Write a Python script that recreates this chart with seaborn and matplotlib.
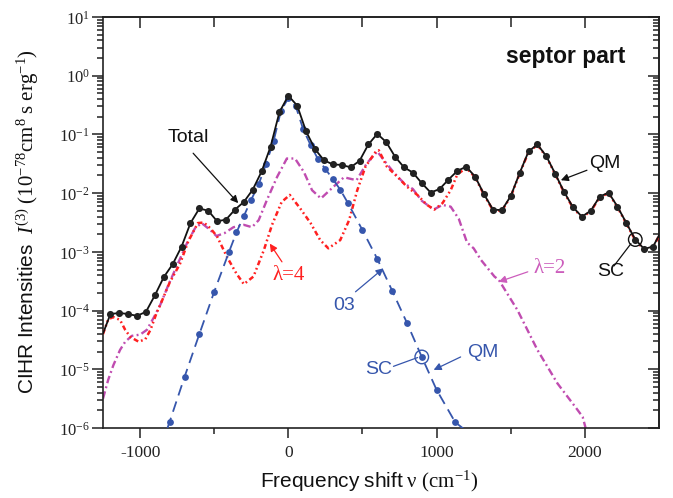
import numpy as np
import pandas as pd
import matplotlib
matplotlib.use("Agg")
import matplotlib.pyplot as plt
import seaborn as sns
from matplotlib.ticker import FixedLocator, LogLocator, NullFormatter, FuncFormatter

# ---------------------------------------------------------------------------
# Spectra (log10 of intensity, units 1e-78 cm^8 s erg^-1) vs frequency shift
# ---------------------------------------------------------------------------
# Total: semiclassical points every 60 cm^-1, quantum line through them
total_nu = list(range(-1200, 2461, 60))
total_log10 = [
    -4.06, -4.04, -4.06, -4.09, -4.02, -3.74, -3.43, -3.21, -2.91, -2.51,
    -2.26, -2.30, -2.48, -2.45, -2.28, -2.15, -1.94, -1.63, -1.21, -0.62,
    -0.34, -0.51, -0.95, -1.25, -1.44, -1.51, -1.52, -1.56, -1.45, -1.17,
    -0.99, -1.13, -1.38, -1.56, -1.65, -1.83, -1.99, -1.93, -1.77, -1.62,
    -1.55, -1.72, -2.02, -2.28, -2.29, -2.05, -1.66, -1.29, -1.17, -1.37,
    -1.67, -1.98, -2.24, -2.40, -2.30, -2.06, -1.99, -2.23, -2.51, -2.79,
    -2.95, -2.91,
]
total_edge_nu = [-1250, 2500]
total_edge_log10 = [-4.39, -2.72]

# Isotropic 03 component
o3_nu = [-800, -700, -600, -500, -400, -350, -300, -250, -200, -150, -100,
         -50, 0, 50, 100, 150, 200, 250, 300, 350, 400, 500, 600, 700, 800,
         900, 1000, 1125]
o3_log10 = [-5.89, -5.13, -4.40, -3.68, -3.00, -2.67, -2.39, -2.11, -1.85,
            -1.50, -1.12, -0.60, -0.38, -0.52, -0.91, -1.18, -1.42, -1.59,
            -1.76, -1.94, -2.16, -2.63, -3.12, -3.66, -4.21, -4.79, -5.35,
            -5.90]
o3_edge_nu = [-815, 1185]
o3_edge_log10 = [-6.0, -6.02]

# lambda = 4 component
l4_nu = [-1250, -1215, -1180, -1135, -1100, -1065, -1010, -965, -930, -890,
         -855, -800, -730, -675, -610, -570, -525, -480, -415, -350, -300,
         -235, -165, -110, -45, 10, 80, 150, 215, 270, 350, 410, 465, 520,
         590, 610, 665, 735, 800, 870, 935, 985, 1040, 1095, 1140, 1200,
         1260, 1320, 1380, 1440, 1500, 1560, 1620, 1680, 1740, 1800, 1860,
         1920, 1980, 2040, 2100, 2160, 2220, 2280, 2340, 2400, 2460, 2500]
l4_log10 = [-4.40, -4.15, -4.11, -4.16, -4.33, -4.45, -4.53, -4.49, -4.33,
            -4.05, -3.85, -3.52, -3.20, -2.82, -2.51, -2.50, -2.60, -2.74,
            -3.08, -3.37, -3.55, -3.42, -2.97, -2.54, -2.15, -2.03, -2.26,
            -2.51, -2.80, -2.94, -2.80, -2.46, -1.95, -1.55, -1.29, -1.27,
            -1.55, -1.72, -1.89, -2.03, -2.20, -2.28, -2.17, -1.95, -1.68,
            -1.57, -1.73, -2.03, -2.29, -2.30, -2.06, -1.67, -1.30, -1.18,
            -1.38, -1.68, -1.99, -2.25, -2.41, -2.31, -2.07, -2.00, -2.24,
            -2.52, -2.80, -2.96, -2.92, -2.73]

# lambda = 2 component
l2_nu = [-1250, -1215, -1180, -1135, -1100, -1055, -1000, -955, -910, -865,
         -810, -745, -685, -630, -585, -530, -485, -430, -370, -300, -245,
         -200, -145, -75, -10, 45, 105, 160, 220, 305, 375, 460, 530, 600,
         645, 715, 780, 840, 900, 980, 1040, 1095, 1150, 1205, 1250, 1300,
         1390, 1420, 1545, 1680, 1815, 1950, 1985, 2005]
l2_log10 = [-5.50, -5.18, -4.93, -4.67, -4.53, -4.43, -4.41, -4.33, -4.13,
            -3.91, -3.57, -3.20, -2.86, -2.60, -2.51, -2.62, -2.73, -2.68,
            -2.58, -2.54, -2.58, -2.46, -2.12, -1.72, -1.41, -1.41, -1.64,
            -1.95, -2.09, -1.89, -1.73, -1.78, -1.49, -1.29, -1.44, -1.66,
            -1.83, -1.93, -2.13, -2.28, -2.20, -2.23, -2.44, -2.84, -2.94,
            -3.14, -3.42, -3.48, -3.99, -4.67, -5.24, -5.69, -5.81, -6.00]

x_ticks = [-1000, 0, 1000, 2000]
x_tick_labels = ["-1000", "0", "1000", "2000"]
x_minor_ticks = [-500, 500, 1500]

BLACK = "#111111"
BLUE = "#3656AC"
RED = "#FF2020"
MAGENTA = "#C04CB0"
MAGENTA_TXT = "#CC5DBC"

sns.set_style("ticks")
plt.rcParams.update({
    "font.family": ["Liberation Sans", "DejaVu Sans"],
    "mathtext.fontset": "custom",
    "mathtext.rm": "Liberation Serif",
    "mathtext.it": "Liberation Serif:italic",
    "mathtext.bf": "Liberation Serif:bold",
    "mathtext.sf": "Liberation Sans",
    "axes.linewidth": 1.2,
})


def frame(nu, lg):
    return pd.DataFrame({"nu": nu, "I": np.power(10.0, lg)})


total_df = frame(total_nu, total_log10)
total_line_df = frame([total_edge_nu[0]] + total_nu + [total_edge_nu[1]],
                      [total_edge_log10[0]] + total_log10 + [total_edge_log10[1]])
o3_df = frame(o3_nu, o3_log10)
o3_line_df = frame([o3_edge_nu[0]] + o3_nu + [o3_edge_nu[1]],
                   [o3_edge_log10[0]] + o3_log10 + [o3_edge_log10[1]])
l4_df = frame(l4_nu, l4_log10)
l2_df = frame(l2_nu, l2_log10)

W, H = 673, 498
fig = plt.figure(figsize=(W / 100, H / 100), dpi=100)
ax = fig.add_axes([103 / W, 1 - 428 / H, (659 - 103) / W, (428 - 17) / H])
ax.set_yscale("log")

line_kw = dict(x="nu", y="I", ax=ax, sort=False, estimator=None, legend=False)
sns.lineplot(data=l2_df, color=MAGENTA, lw=1.7,
             linestyle=(0, (3.2, 1.4, 0.8, 1.4)), zorder=2, **line_kw)
sns.lineplot(data=l4_df, color=RED, lw=1.8,
             linestyle=(0, (2.0, 1.2, 0.7, 1.2, 0.7, 1.2)), zorder=3, **line_kw)
sns.lineplot(data=o3_line_df, color=BLUE, lw=1.3,
             linestyle=(0, (6, 3.5)), zorder=3, **line_kw)
sns.scatterplot(data=o3_df, x="nu", y="I", ax=ax, color=BLUE, s=24,
                linewidth=0, zorder=4, legend=False)
sns.lineplot(data=total_line_df, color=BLACK, lw=1.3, zorder=5, **line_kw)
sns.scatterplot(data=total_df, x="nu", y="I", ax=ax, color="#222222", s=26,
                linewidth=0, zorder=6, legend=False)

# open circles marking the semiclassical points that carry the "SC" labels
sc_blue = o3_df[o3_df.nu == 900]
sc_black = total_df[total_df.nu == 2340]
ax.scatter(sc_blue.nu, sc_blue.I, s=95, facecolors="none", edgecolors=BLUE,
           linewidths=1.0, zorder=7)
ax.scatter(sc_black.nu, sc_black.I, s=95, facecolors="none", edgecolors=BLACK,
           linewidths=1.0, zorder=7)

ax.set_xlim(-1250, 2500)
ax.set_ylim(1e-6, 10)
ax.set_xlabel("")
ax.set_ylabel("")

# axis ticks: outward on bottom/left
ax.xaxis.set_major_locator(FixedLocator(x_ticks))
ax.xaxis.set_minor_locator(FixedLocator(x_minor_ticks))
ax.set_xticklabels(x_tick_labels, fontfamily="Liberation Serif", fontsize=12.5)
ax.yaxis.set_major_locator(LogLocator(base=10, numticks=20))
ax.yaxis.set_minor_locator(LogLocator(base=10, subs=np.arange(2, 10), numticks=20))
ax.yaxis.set_minor_formatter(NullFormatter())
ax.yaxis.set_major_formatter(
    FuncFormatter(lambda v, p: r"$10^{%d}$" % int(round(np.log10(v)))))
ax.tick_params(axis="both", which="both", direction="out", top=False,
               right=False, width=1.1, colors="#222222")
ax.tick_params(axis="x", which="major", length=7, pad=5)
ax.tick_params(axis="x", which="minor", length=4)
ax.tick_params(axis="y", which="major", length=8, pad=1.5, labelsize=12)
ax.tick_params(axis="y", which="minor", length=4)

# mirrored ticks pointing inward on top/right
secx = ax.secondary_xaxis("top")
secx.xaxis.set_major_locator(FixedLocator(x_ticks))
secx.xaxis.set_minor_locator(FixedLocator(x_minor_ticks))
secx.tick_params(which="both", direction="in", labeltop=False, width=1.1,
                 colors="#222222")
secx.tick_params(which="major", length=8)
secx.tick_params(which="minor", length=7)
secx.spines["top"].set_linewidth(1.2)

secy = ax.secondary_yaxis("right")
secy.yaxis.set_major_locator(LogLocator(base=10, numticks=20))
secy.yaxis.set_minor_locator(LogLocator(base=10, subs=np.arange(2, 10), numticks=20))
secy.yaxis.set_minor_formatter(NullFormatter())
secy.tick_params(which="both", direction="in", labelright=False, width=1.1,
                 colors="#222222")
secy.tick_params(which="major", length=8)
secy.tick_params(which="minor", length=4)
secy.spines["right"].set_linewidth(1.2)

for s in ax.spines.values():
    s.set_color("#222222")

# axis titles
fig.text(369.5 / W, 1 - 487 / H,
         r"$\mathsf{Frequency\ shift}\ \mathrm{\nu}\ (\mathrm{cm}^{-1})$",
         ha="center", va="baseline", fontsize=15, color="#111111")
fig.text(28 / W, 1 - 221.5 / H,
         r"$\mathsf{CIHR\ Intensities}\ \ I^{(3)}\ (10^{-78}\mathrm{cm}^{8}\ "
         r"\mathrm{s\ erg}^{-1})$",
         ha="center", va="center", rotation=90, fontsize=15, color="#111111")


def E(v):
    return 10.0 ** v


def pointer(tail, head, color, style="-|>"):
    ax.annotate("", xy=(head[0], E(head[1])), xytext=(tail[0], E(tail[1])),
                arrowprops=dict(arrowstyle=style, color=color, lw=0.9,
                                mutation_scale=11, shrinkA=0, shrinkB=0),
                zorder=8)


sans = dict(family="Liberation Sans", fontsize=14, ha="center", va="center")
serif = dict(family="Liberation Serif", fontsize=15, ha="center", va="center")

ax.text(-676, E(-1.06), "Total", color=BLACK, **sans)
pointer((-642, -1.32), (-338, -2.17), BLACK)

ax.text(0, E(-3.41), "λ=4", color=RED, **serif)
pointer((-43, -3.17), (-125, -2.86), RED)

ax.text(378, E(-3.91), "03", color=BLUE, **sans)
pointer((453, -3.68), (642, -3.28), BLUE)

ax.text(608, E(-5.01), "SC", color=BLUE, **sans)
pointer((709, -4.95), (872, -4.80), BLUE, style="-")

ax.text(1311, E(-4.71), "QM", color=BLUE, **sans)
pointer((1162, -4.79), (980, -5.01), BLUE)

ax.text(1764, E(-3.28), "λ=2", color=MAGENTA_TXT, **serif)
pointer((1615, -3.34), (1419, -3.51), MAGENTA_TXT)

ax.text(2135, E(-1.50), "QM", color=BLACK, **sans)
pointer((2014, -1.61), (1838, -1.78), BLACK)

ax.text(2176, E(-3.34), "SC", color=BLACK, **sans)
pointer((2196, -3.24), (2311, -2.86), BLACK, style="-")

ax.text(0.833, 0.905, "septor part", transform=ax.transAxes, ha="center",
        va="center", family="Liberation Sans", fontweight="bold", fontsize=16.5,
        color="#111111")

fig.savefig("out.png", dpi=100)
